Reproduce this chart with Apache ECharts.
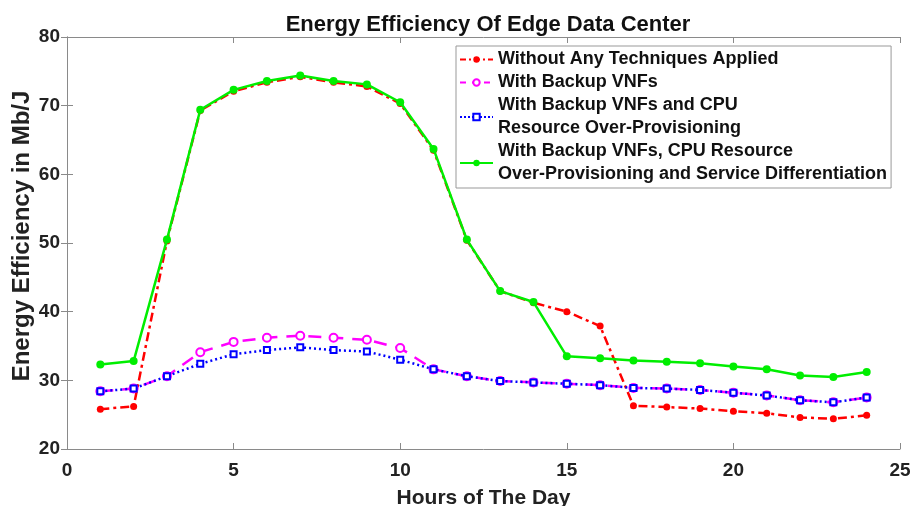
<!DOCTYPE html>
<html>
<head>
<meta charset="utf-8">
<script src="https://cdn.jsdelivr.net/npm/echarts@6/dist/echarts.min.js"></script>
<style>
  html, body { margin: 0; padding: 0; background: #fff; }
  #main { width: 912px; height: 506px; }
</style>
</head>
<body>
<div id="main"></div>
<script>
// hours of the day
var hours = [1, 2, 3, 4, 5, 6, 7, 8, 9, 10, 11, 12, 13, 14, 15, 16, 17, 18, 19, 20, 21, 22, 23, 24];

// energy efficiency (Mb/J)
var noTech = [25.8, 26.2, 50.3, 69.3, 72.1, 73.4, 74.2, 73.4, 72.8, 70.3, 63.5, 50.4,
              43.0, 41.3, 40.0, 37.9, 26.3, 26.1, 25.9, 25.5, 25.2, 24.6, 24.4, 24.9];
var backup = [28.4, 28.8, 30.6, 34.1, 35.6, 36.2, 36.5, 36.2, 35.9, 34.7, 31.6, 30.6,
              29.9, 29.7, 29.5, 29.3, 28.9, 28.8, 28.6, 28.2, 27.8, 27.1, 26.8, 27.5];
var backupCpu = [28.4, 28.8, 30.6, 32.4, 33.8, 34.4, 34.8, 34.4, 34.2, 33.0, 31.6, 30.6,
                 29.9, 29.7, 29.5, 29.3, 28.9, 28.8, 28.6, 28.2, 27.8, 27.1, 26.8, 27.5];
var allTech = [32.3, 32.8, 50.5, 69.4, 72.3, 73.6, 74.4, 73.6, 73.1, 70.5, 63.7, 50.5,
               43.0, 41.4, 33.5, 33.2, 32.9, 32.7, 32.5, 32.0, 31.6, 30.7, 30.5, 31.2];

var names = [
    'Without Any Techniques Applied',
    'With Backup VNFs',
    'With Backup VNFs and CPU\nResource Over-Provisioning',
    'With Backup VNFs, CPU Resource\nOver-Provisioning and Service Differentiation'
];

// line dash patterns (matlab-like -. -- : -)
var dashes = [[9, 4, 3, 4], [13, 9], [2, 3], 'solid'];
// shorter versions for the legend icons
var legendDashes = [[6, 3, 2, 3], [6, 6], [2, 2], 'solid'];

function pairs(ys) {
    var out = [];
    for (var i = 0; i < hours.length; i++) {
        out.push([hours[i], ys[i]]);
    }
    return out;
}

var chart = echarts.init(document.getElementById('main'));

var axisCol = '#8a8a8a';
var font = 'Liberation Sans, Arial, sans-serif';
var tickFont = { fontFamily: font, fontWeight: 'bold', fontSize: 19, color: '#222' };

var legendData = names.map(function (n, i) {
    return { name: n, lineStyle: { type: legendDashes[i] } };
});

var option = {
    backgroundColor: '#fff',
    animation: false,
    title: {
        text: 'Energy Efficiency Of Edge Data Center',
        left: 483,
        textAlign: 'center',
        top: 9,
        textStyle: { fontFamily: font, fontWeight: 'bold', fontSize: 22, color: '#111' }
    },
    grid: { left: 67, right: 12, top: 37, bottom: 57, containLabel: false, outerBoundsMode: 'none' },
    legend: {
        orient: 'vertical',
        left: 456,
        top: 46,
        padding: [2, 4, 2, 3],
        itemGap: 0,
        itemWidth: 33,
        itemHeight: 8,
        backgroundColor: '#fff',
        borderColor: '#999',
        borderWidth: 1,
        borderRadius: 0,
        textStyle: { fontFamily: font, fontWeight: 'bold', fontSize: 18, lineHeight: 23, color: '#111' },
        data: legendData
    },
    xAxis: [{
        type: 'value', min: 0, max: 25, interval: 5,
        name: 'Hours of The Day', nameLocation: 'middle', nameGap: 39, nameMoveOverlap: false,
        nameTextStyle: { fontFamily: font, fontWeight: 'bold', fontSize: 21, color: '#222' },
        axisLine: { show: true, lineStyle: { color: axisCol, width: 1 } },
        axisTick: { inside: true, length: 6, lineStyle: { color: axisCol } },
        axisLabel: Object.assign({ margin: 12 }, tickFont),
        splitLine: { show: false }
    }, {
        type: 'value', min: 0, max: 25, interval: 5, position: 'top',
        axisLine: { show: true, lineStyle: { color: axisCol, width: 1 } },
        axisTick: { inside: true, length: 6, lineStyle: { color: axisCol } },
        axisLabel: { show: false },
        splitLine: { show: false }
    }],
    yAxis: [{
        type: 'value', min: 20, max: 80, interval: 10,
        name: 'Energy Efficiency in Mb/J', nameLocation: 'middle', nameGap: 33, nameMoveOverlap: false,
        nameTextStyle: { fontFamily: font, fontWeight: 'bold', fontSize: 24, color: '#222', padding: [0, 0, 0, 14] },
        axisLine: { show: true, lineStyle: { color: axisCol, width: 1 } },
        axisTick: { inside: true, length: 6, lineStyle: { color: axisCol } },
        axisLabel: Object.assign({ margin: 7, padding: [6, 0, 0, 0] }, tickFont),
        splitLine: { show: false }
    }, {
        type: 'value', min: 20, max: 80, interval: 10, position: 'right',
        axisLine: { show: true, lineStyle: { color: axisCol, width: 1 } },
        axisTick: { inside: true, length: 6, lineStyle: { color: axisCol } },
        axisLabel: { show: false },
        splitLine: { show: false }
    }],
    series: [{
        name: names[0], type: 'line', data: pairs(noTech),
        symbol: 'circle', symbolSize: 7,
        itemStyle: { color: '#ff0000' },
        lineStyle: { color: '#ff0000', width: 2.5, type: dashes[0] },
        z: 2
    }, {
        name: names[1], type: 'line', data: pairs(backup),
        symbol: 'emptyCircle', symbolSize: 8,
        itemStyle: { color: '#ff00ff', borderColor: '#ff00ff', borderWidth: 1.8 },
        lineStyle: { color: '#ff00ff', width: 2.5, type: dashes[1] },
        z: 3
    }, {
        name: names[2], type: 'line', data: pairs(backupCpu),
        symbol: 'emptyRect', symbolSize: 6,
        itemStyle: { color: '#0000ff', borderColor: '#0000ff', borderWidth: 1.8 },
        lineStyle: { color: '#0000ff', width: 2.5, type: dashes[2] },
        z: 4
    }, {
        name: names[3], type: 'line', data: pairs(allTech),
        symbol: 'circle', symbolSize: 8,
        itemStyle: { color: '#00ee00' },
        lineStyle: { color: '#00ee00', width: 2.5, type: dashes[3] },
        z: 5
    }]
};

chart.setOption(option);
</script>
</body>
</html>
